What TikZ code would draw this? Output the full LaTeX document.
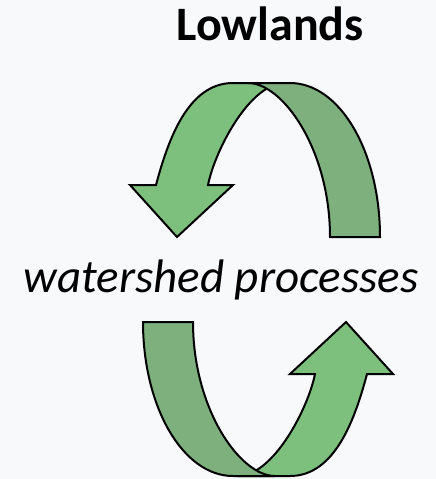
\documentclass[tikz,border=0pt]{standalone}
\usepackage{fontspec}
\setmainfont{Carlito}
\definecolor{bgcol}{RGB}{248,249,251}
\definecolor{frontgreen}{RGB}{125,192,125}
\definecolor{backgreen}{RGB}{126,176,126}
\tikzset{
  band/.style={draw=black, line width=2pt},
  front/.style={band, fill=frontgreen},
  back/.style={band, fill=backgreen},
  % one curved ribbon arrow: front half with the head, back half behind it
  pics/ribbonarrow/.style={code={
    \path[front] (233,83) -- (285,83)
      .. controls (250,83) and (215,150) .. (208,185)
      -- (233,185) -- (177,237) -- (130,185) -- (156,185)
      .. controls (168,140) and (188,83) .. (233,83)
      -- cycle;
    \path[back] (248,83) -- (290,83)
      .. controls (340,83) and (380,152) .. (380,237)
      -- (330,237)
      .. controls (330,150) and (283,83) .. (248,83)
      -- cycle;
  }}
}
\begin{document}
\begin{tikzpicture}[x=1pt, y=-1pt]
  \useasboundingbox[fill=bgcol] (0,0) rectangle (436,479);
  \pic {ribbonarrow};
  \begin{scope}[rotate around={180:(261.5,279.5)}]
    \pic[transform shape] {ribbonarrow};
  \end{scope}
  \node[font={\fontsize{48}{54}\selectfont\bfseries}, anchor=base] (title) at (270,40) {Lowlands};
  \node[font={\fontsize{47}{54}\selectfont\itshape}, anchor=base] (label) at (221,292) {watershed processes};
\end{tikzpicture}
\end{document}
